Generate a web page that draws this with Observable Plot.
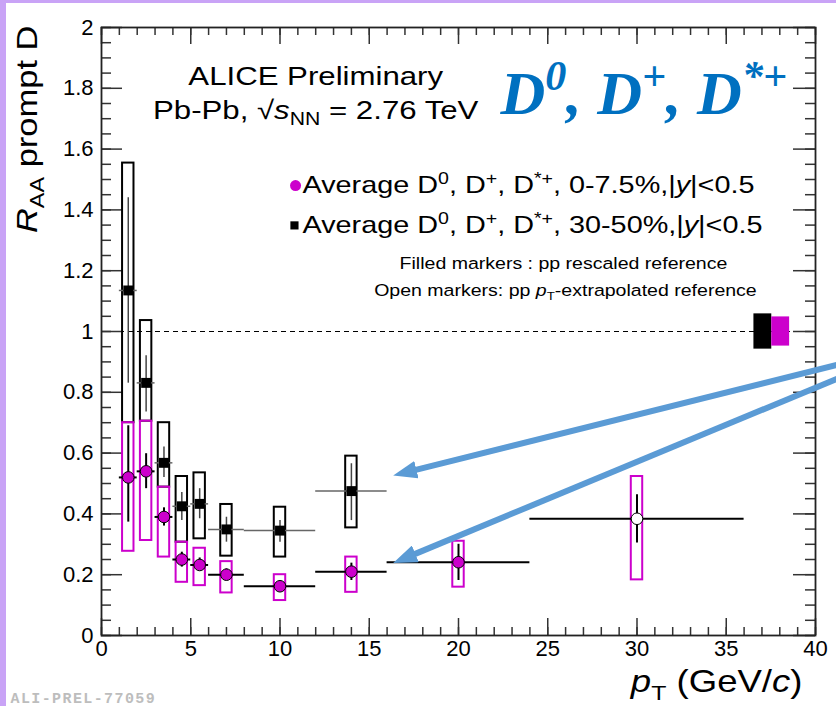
<!DOCTYPE html>
<html><head><meta charset="utf-8">
<script src="https://cdn.jsdelivr.net/npm/d3@7"></script>
<script src="https://cdn.jsdelivr.net/npm/@observablehq/plot@0.6"></script>
<style>
html,body{margin:0;padding:0;background:#fff;}
#wrap{position:relative;width:836px;height:706px;overflow:hidden;background:#fff;}
.band{position:absolute;background:#c9a3f6;}
</style></head><body>
<div id="wrap"></div>
<script>
// ---- data ----
const ptMid = [1.5, 2.5, 3.5, 4.5, 5.5, 7, 10, 14, 20, 30];
const binLo = [1, 2, 3, 4, 5, 6, 8, 12, 16, 24];
const binHi = [2, 3, 4, 5, 6, 8, 12, 16, 24, 36];
// Average D0, D+, D*+, 0-7.5%
const centralRaa    = [0.52, 0.54, 0.39, 0.25, 0.232, 0.20, 0.162, 0.21, 0.241, 0.384];
const centralStatLo = [0.373, 0.483, 0.36, 0.225, 0.214, 0.181, 0.15, 0.181, 0.181, 0.304];
const centralStatHi = [0.69, 0.598, 0.42, 0.274, 0.255, 0.219, 0.175, 0.238, 0.30, 0.463];
const centralSystLo = [0.277, 0.3125, 0.258, 0.175, 0.164, 0.14, 0.115, 0.142, 0.159, 0.183];
const centralSystHi = [0.70, 0.705, 0.488, 0.307, 0.287, 0.243, 0.20, 0.258, 0.31, 0.523];
const centralOpen   = [false, false, false, false, false, false, false, false, false, true];
// Average D0, D+, D*+, 30-50%
const semiRaa    = [1.135, 0.831, 0.568, 0.425, 0.433, 0.349, 0.345, 0.475];
const semiStatLo = [0.83, 0.735, 0.52, 0.378, 0.384, 0.307, 0.307, 0.378];
const semiStatHi = [1.44, 0.92, 0.62, 0.47, 0.483, 0.389, 0.378, 0.565];
const semiSystLo = [0.70, 0.705, 0.488, 0.307, 0.318, 0.261, 0.258, 0.354];
const semiSystHi = [1.554, 1.036, 0.70, 0.523, 0.535, 0.431, 0.422, 0.59];
// normalisation uncertainty boxes at RAA = 1
const normSeries = ["30-50%", "0-7.5%"];
const normX1 = [36.55, 37.55];
const normX2 = [37.55, 38.55];
const normLo = [0.942, 0.952];
const normHi = [1.058, 1.048];
// annotation arrows (start off the right edge, end at the arrow heads)
const arrowX1 = [42, 42];
const arrowY1 = [0.902, 0.864];
const arrowX2 = [17.21, 17.17];
const arrowY2 = [0.539, 0.2586];
// ticks
const xMajorTicks = [0, 5, 10, 15, 20, 25, 30, 35, 40];
const xMinorTicks = [0,1,2,3,4,5,6,7,8,9,10,11,12,13,14,15,16,17,18,19,20,21,22,23,24,25,26,27,28,29,30,31,32,33,34,35,36,37,38,39,40];
const yMajorTicks = [0, 0.2, 0.4, 0.6, 0.8, 1, 1.2, 1.4, 1.6, 1.8, 2];
const yMinorTicks = [0,0.05,0.1,0.15,0.2,0.25,0.3,0.35,0.4,0.45,0.5,0.55,0.6,0.65,0.7,0.75,0.8,0.85,0.9,0.95,1,1.05,1.1,1.15,1.2,1.25,1.3,1.35,1.4,1.45,1.5,1.55,1.6,1.65,1.7,1.75,1.8,1.85,1.9,1.95,2];
// texts
const textAlice = "ALICE Preliminary";
const textSystem = "Pb-Pb, √#{s}_{NN} = 2.76 TeV";
const textSpecies = "D^{0}, D^{+}, D^{*+}";
const textLegCentral = "Average D^{0}, D^{+}, D^{*+}, 0-7.5%,|#{y}|<0.5";
const textLegSemi = "Average D^{0}, D^{+}, D^{*+}, 30-50%,|#{y}|<0.5";
const textFilled = "Filled markers : pp rescaled reference";
const textOpen = "Open markers: pp #{p}_{T}-extrapolated reference";
const textYTitle = "#{R}_{AA} prompt D";
const textXTitle = "#{p}_{T} (GeV/#{c})";
const textTag = "ALI-PREL-77059";

// ---- build rows ----
const central = centralRaa.map((v, i) => ({x: ptMid[i], lo: binLo[i], hi: binHi[i], v,
  sLo: centralStatLo[i], sHi: centralStatHi[i], yLo: centralSystLo[i], yHi: centralSystHi[i], open: centralOpen[i]}));
const semi = semiRaa.map((v, i) => ({x: ptMid[i], lo: binLo[i], hi: binHi[i], v,
  sLo: semiStatLo[i], sHi: semiStatHi[i], yLo: semiSystLo[i], yHi: semiSystHi[i]}));
const norm = normSeries.map((s, i) => ({s, x1: normX1[i], x2: normX2[i], y1: normLo[i], y2: normHi[i]}));
const arrows = arrowX1.map((x, i) => ({x1: x, y1: arrowY1[i], x2: arrowX2[i], y2: arrowY2[i]}));

const MAG = "#cc00cc";
const boxHalf = 0.32;
const mT = 27, mB = 71, mL = 101, mR = 21, WID = 836, HGT = 706;
const FH = HGT - mT - mB, FW = WID - mL - mR;
const tk = {stroke: "#333", strokeWidth: 1.5};

const plot = Plot.plot({
  width: WID, height: HGT,
  marginTop: mT, marginBottom: mB, marginLeft: mL, marginRight: mR,
  x: {domain: [0, 40]},
  y: {domain: [0, 2]},
  style: {fontFamily: "'Liberation Sans', Arial, sans-serif", background: "#fff", color: "#000"},
  marks: [
    Plot.ruleY([1], {stroke: "#000", strokeWidth: 1.2, strokeDasharray: "5,4"}),
    // inward ticks on four sides
    Plot.tickX(xMinorTicks, {x: d => d, insetTop: FH - 8, ...tk}),
    Plot.tickX(xMajorTicks, {x: d => d, insetTop: FH - 17, ...tk}),
    Plot.tickX(xMinorTicks, {x: d => d, insetBottom: FH - 8, ...tk}),
    Plot.tickX(xMajorTicks, {x: d => d, insetBottom: FH - 17, ...tk}),
    Plot.tickY(yMinorTicks, {y: d => d, insetRight: FW - 10, ...tk}),
    Plot.tickY(yMajorTicks, {y: d => d, insetRight: FW - 21, ...tk}),
    Plot.tickY(yMinorTicks, {y: d => d, insetLeft: FW - 10, ...tk}),
    Plot.tickY(yMajorTicks, {y: d => d, insetLeft: FW - 22, ...tk}),
    Plot.frame({stroke: "#222", strokeWidth: 1.8}),
    Plot.axisX(xMajorTicks, {tickSize: 0, tickPadding: 5, fontSize: 22, label: null, tickFormat: d => String(d)}),
    Plot.axisY(yMajorTicks, {tickSize: 0, tickPadding: 8, fontSize: 22, label: null, tickFormat: d => String(+d.toFixed(1))}),
    // normalisation boxes
    Plot.rect(norm.filter(d => d.s === "30-50%"), {x1: "x1", x2: "x2", y1: "y1", y2: "y2", fill: "#000"}),
    Plot.rect(norm.filter(d => d.s === "0-7.5%"), {x1: "x1", x2: "x2", y1: "y1", y2: "y2", fill: MAG}),
    // 30-50%
    Plot.rect(semi, {x1: d => d.x - boxHalf, x2: d => d.x + boxHalf, y1: "yLo", y2: "yHi", fill: "none", stroke: "#000", strokeWidth: 2}),
    Plot.ruleY(semi, {y: "v", x1: "lo", x2: "hi", stroke: "#666", strokeWidth: 1.5}),
    Plot.ruleX(semi, {x: "x", y1: "sLo", y2: "sHi", stroke: "#444", strokeWidth: 1.5}),
    Plot.dot(semi, {x: "x", y: "v", symbol: "square", r: 5.6, fill: "#000"}),
    // 0-7.5%
    Plot.rect(central, {x1: d => d.x - boxHalf, x2: d => d.x + boxHalf, y1: "yLo", y2: "yHi", fill: "none", stroke: MAG, strokeWidth: 2}),
    Plot.ruleY(central, {y: "v", x1: "lo", x2: "hi", stroke: "#000", strokeWidth: 2}),
    Plot.ruleX(central, {x: "x", y1: "sLo", y2: "sHi", stroke: "#000", strokeWidth: 2}),
    Plot.dot(central.filter(d => !d.open), {x: "x", y: "v", r: 5.8, fill: MAG, stroke: "#000", strokeWidth: 1}),
    Plot.dot(central.filter(d => d.open), {x: "x", y: "v", r: 5.8, fill: "#fff", stroke: "#000", strokeWidth: 1}),
    // legend
    Plot.dot([textLegCentral], {x: 10.87, y: 1.48, r: 5.5, fill: MAG}),
    Plot.dot([textLegSemi], {x: 10.81, y: 1.349, symbol: "square", r: 4.6, fill: "#000"}),
    Plot.text([textLegCentral], {x: 11.26, y: 1.48, text: d => d, fontSize: 24, textAnchor: "start"}),
    Plot.text([textLegSemi], {x: 11.26, y: 1.349, text: d => d, fontSize: 24, textAnchor: "start"}),
    Plot.text([textFilled], {x: 25.88, y: 1.224, text: d => d, fontSize: 17, textAnchor: "middle"}),
    Plot.text([textOpen], {x: 25.99, y: 1.135, text: d => d, fontSize: 17, textAnchor: "middle"}),
    // header
    Plot.text([textAlice], {x: 12.0, y: 1.839, text: d => d, fontSize: 26, textAnchor: "middle"}),
    Plot.text([textSystem], {x: 12.0, y: 1.728, text: d => d, fontSize: 26, textAnchor: "middle"}),
    Plot.text([textSpecies], {x: 22.35, y: 1.717, text: d => d, fontSize: 62, textAnchor: "start", lineAnchor: "bottom",
      fontFamily: "'Liberation Serif', 'Times New Roman', serif", fontWeight: "bold", fontStyle: "italic", fill: "#0070c0"}),
    // axis titles
    Plot.text([textYTitle], {frameAnchor: "top-left", dx: -65, dy: -2, rotate: -90, text: d => d, fontSize: 30, textAnchor: "end", lineAnchor: "bottom"}),
    Plot.text([textXTitle], {frameAnchor: "bottom-right", dx: -13, dy: 56, text: d => d, fontSize: 31, textAnchor: "end", lineAnchor: "bottom"}),
    Plot.text([textTag], {frameAnchor: "bottom-left", dx: -91, dy: 67, text: d => d, fontSize: 15, textAnchor: "start", lineAnchor: "bottom",
      fontFamily: "'Liberation Mono', 'DejaVu Sans Mono', monospace", fontWeight: "bold", fill: "#bdbdbd"}),
    // arrows
    Plot.link(arrows, {x1: "x1", y1: "y1", x2: "x2", y2: "y2", stroke: "#5b9bd5", strokeWidth: 6})
  ]
});

const wrap = document.getElementById("wrap");
wrap.appendChild(plot);

// ---- post-processing: rich text (sub/superscripts, italics), horizontal stretch, arrow heads ----
const NS = "http://www.w3.org/2000/svg";
const stretch = new Map([
  [textAlice, 1.2], [textSystem, 1.2], [textLegCentral, 1.2], [textLegSemi, 1.2],
  [textFilled, 1.15], [textOpen, 1.15], [textYTitle, 1.15], [textXTitle, 1.18]
]);
plot.querySelectorAll("text").forEach(t => {
  const s = t.textContent;
  if (stretch.has(s)) {
    t.setAttribute("transform", (t.getAttribute("transform") || "") + ` scale(${stretch.get(s)},1)`);
  }
  if (s === textTag) t.setAttribute("letter-spacing", "1.4");
  if (!/[_^#]\{/.test(s)) return;
  const fs = parseFloat(getComputedStyle(t).fontSize);
  t.textContent = "";
  let shift = 0;
  const re = /([_^#])\{([^}]*)\}|([^_^#]+|[_^#])/g;
  let m;
  while ((m = re.exec(s))) {
    const ts = document.createElementNS(NS, "tspan");
    let target = 0, size = null, italic = false, txt;
    if (m[1]) {
      txt = m[2];
      if (m[1] === "_") { target = 0.26 * fs; size = 0.68 * fs; }
      else if (m[1] === "^") { target = -0.38 * fs; size = 0.68 * fs; }
      else italic = true;
    } else txt = m[3];
    const dy = target - shift;
    if (dy) ts.setAttribute("dy", dy.toFixed(2));
    shift = target;
    if (size) ts.setAttribute("font-size", size.toFixed(2));
    if (italic) ts.setAttribute("font-style", "italic");
    ts.textContent = txt;
    t.appendChild(ts);
  }
});

const defs = document.createElementNS(NS, "defs");
defs.innerHTML = '<marker id="ahead" viewBox="0 0 24 18" markerUnits="userSpaceOnUse" markerWidth="24" markerHeight="18" refX="8" refY="9" orient="auto"><path d="M0,0L24,9L0,18z" fill="#5b9bd5"/></marker>';
plot.insertBefore(defs, plot.firstChild);
plot.querySelectorAll('g[stroke="#5b9bd5"] path').forEach(p => p.setAttribute("marker-end", "url(#ahead)"));

// purple page border
const b1 = document.createElement("div"); b1.className = "band";
Object.assign(b1.style, {left: "0px", top: "0px", width: "6px", height: HGT + "px"});
const b2 = document.createElement("div"); b2.className = "band";
Object.assign(b2.style, {left: "0px", top: "0px", width: WID + "px", height: "3px"});
wrap.appendChild(b1); wrap.appendChild(b2);
</script>
</body></html>
